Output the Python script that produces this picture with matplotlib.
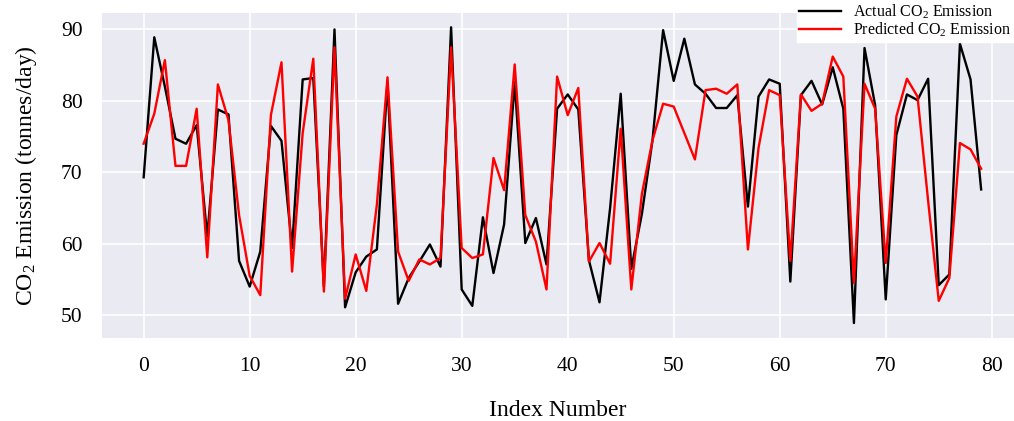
import matplotlib
matplotlib.use("Agg")
import matplotlib.pyplot as plt
import numpy as np

# values
actual = [
    69.3, 88.9, 82.0, 74.7, 74.0, 76.6, 61.0, 78.8, 78.1, 57.6,
    54.0, 58.9, 76.5, 74.4, 59.4, 83.0, 83.2, 54.0, 90.0, 51.1,
    56.0, 58.2, 59.2, 82.6, 51.6, 55.2, 57.5, 59.9, 56.8, 90.3,
    53.6, 51.3, 63.7, 55.9, 62.7, 82.6, 60.1, 63.6, 57.1, 78.9,
    80.9, 78.8, 57.7, 51.8, 65.0, 81.0, 56.5, 64.2, 74.5, 89.9,
    82.8, 88.7, 82.3, 81.0, 79.0, 79.0, 80.8, 65.2, 80.6, 83.0,
    82.4, 54.7, 80.8, 82.8, 79.5, 84.7, 78.9, 48.9, 87.4, 79.4,
    52.2, 75.2, 80.9, 80.1, 83.1, 54.2, 55.7, 88.0, 83.0, 67.6,
]
predicted = [
    74.0, 78.2, 85.7, 70.9, 70.9, 78.9, 58.1, 82.3, 77.3, 64.0,
    55.5, 52.8, 78.0, 85.4, 56.1, 75.5, 85.9, 53.3, 87.5, 52.3,
    58.5, 53.4, 65.5, 83.3, 58.9, 54.8, 57.8, 57.1, 58.0, 87.5,
    59.4, 58.0, 58.5, 72.0, 67.5, 85.1, 64.0, 60.3, 53.6, 83.4,
    78.0, 81.8, 57.5, 60.1, 57.2, 76.1, 53.6, 67.0, 74.5, 79.6,
    79.2, 75.5, 71.8, 81.5, 81.7, 81.0, 82.3, 59.2, 73.4, 81.5,
    80.8, 57.6, 80.9, 78.6, 79.6, 86.2, 83.4, 54.5, 82.4, 78.9,
    57.3, 77.8, 83.1, 80.6, 66.0, 52.0, 55.2, 74.1, 73.2, 70.5,
]
index = np.arange(len(actual))

plt.rcParams["font.family"] = ["Liberation Serif", "DejaVu Serif"]
plt.rcParams["mathtext.fontset"] = "custom"
plt.rcParams["mathtext.rm"] = "Liberation Serif"
plt.rcParams["mathtext.it"] = "Liberation Serif:italic"

fig = plt.figure(figsize=(10.14, 4.21), dpi=100)
ax = fig.add_axes([0.1006, 0.1971, 0.8994, 0.772])
ax.set_facecolor("#EAEAF2")
for s in ax.spines.values():
    s.set_visible(False)
ax.grid(True, color="white", lw=1.2)
ax.set_axisbelow(True)

ax.plot(index, actual, color="black", lw=1.7, label=r"Actual CO$_2$ Emission")
ax.plot(index, predicted, color="red", lw=1.7, label=r"Predicted CO$_2$ Emission")

ax.set_xlim(-3.93, 82.1)
ax.set_ylim(46.8, 92.3)
ax.set_xticks(range(0, 81, 10))
ax.set_yticks(range(50, 91, 10))
ax.tick_params(length=0, pad=14, labelsize=15.5)

ax.set_xlabel("Index Number", fontsize=17, labelpad=17)
ax.set_ylabel(r"CO$_2$ Emission (tonnes/day)", fontsize=17, labelpad=16)

fig.legend(loc="upper right", bbox_to_anchor=(1.0, 1.0), fontsize=11.5,
           frameon=True, facecolor="white", edgecolor="white", framealpha=1,
           fancybox=False, borderaxespad=0, borderpad=0.15, labelspacing=0.0,
           handlelength=2.6, handletextpad=0.8)

fig.savefig("out.png", dpi=100)
